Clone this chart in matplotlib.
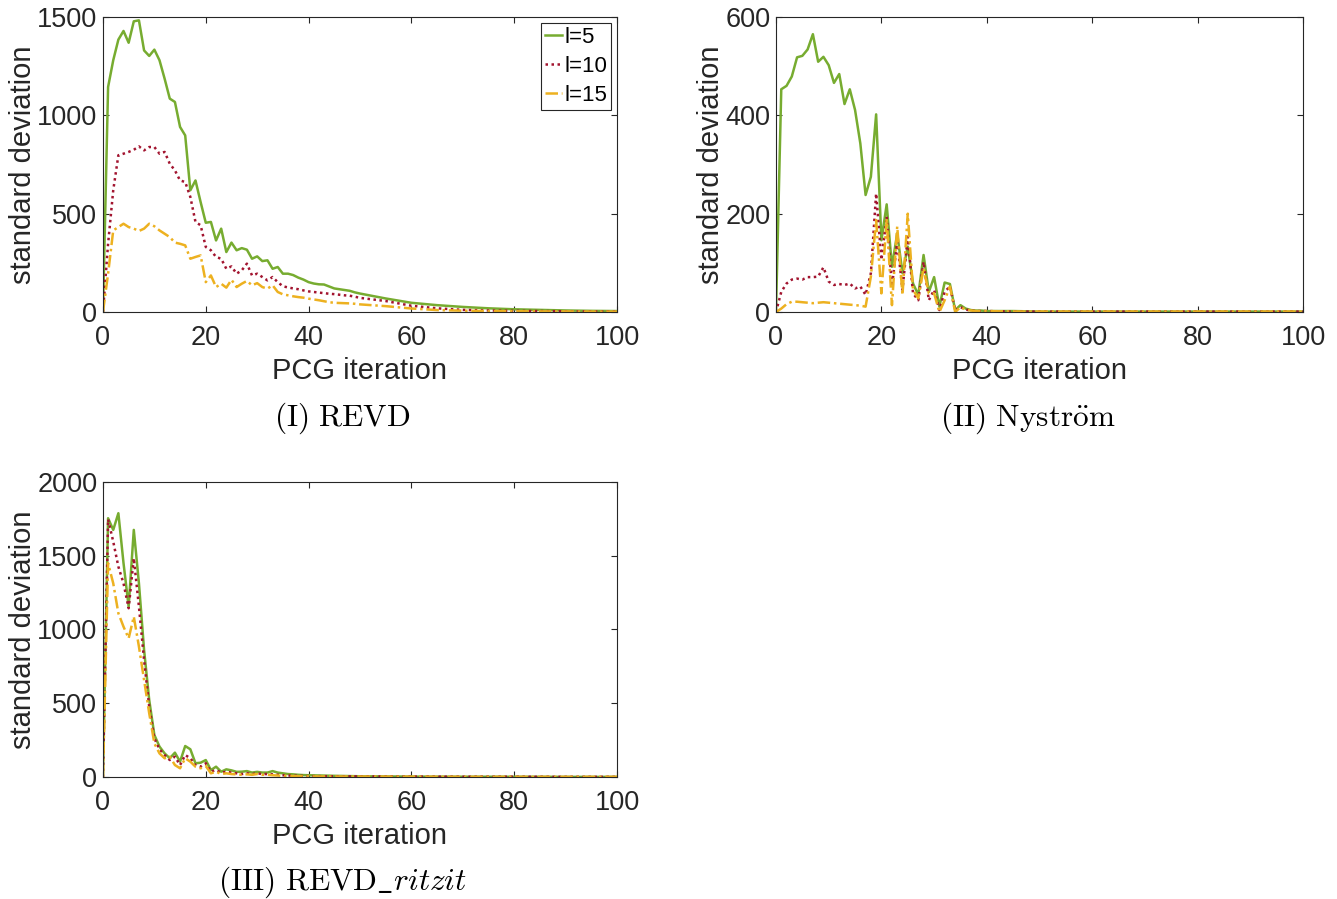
import numpy as np
import matplotlib
matplotlib.use("Agg")
import matplotlib.pyplot as plt

plt.rcParams["font.family"] = ["Liberation Sans", "DejaVu Sans"]
plt.rcParams["mathtext.fontset"] = "cm"

# iteration grids (dense at the start, sparse in the tails)
it_revd = list(range(0, 51)) + [55, 60, 65, 70, 75, 80, 85, 90, 95, 100]
it_short = list(range(0, 41)) + [45, 50, 60, 70, 80, 90, 100]

# (I) REVD
revd_l5 = [0, 1144, 1280, 1385, 1429, 1369, 1478, 1483, 1330, 1302, 1334, 1280, 1186, 1085, 1068,
           941, 898, 619, 669, 559, 454, 458, 364, 424, 305, 353, 314, 325, 317, 271, 283, 259,
           263, 220, 229, 195, 195, 188, 175, 165, 152, 145, 141, 140, 130, 120, 116, 112, 108,
           100, 94,
           69, 47, 35, 26, 19, 14, 11, 8, 6, 5]
revd_l10 = [0, 347, 619, 797, 805, 814, 825, 842, 822, 839, 839, 805, 814, 754, 720, 669, 661, 585,
            458, 441, 331, 314, 280, 271, 220, 232, 195, 212, 246, 186, 195, 178, 161, 178, 152,
            131, 125, 120, 116, 110, 105, 102, 99, 96, 93, 91, 88, 85, 83, 78, 72,
            56, 32, 19, 11, 8, 6, 5, 4, 3, 3]
revd_l15 = [0, 195, 415, 432, 449, 432, 424, 412, 424, 449, 436, 415, 398, 381, 353, 347, 339, 271,
            280, 288, 152, 186, 127, 144, 124, 164, 127, 144, 158, 136, 147, 127, 119, 136, 102,
            90, 85, 80, 76, 73, 68, 64, 60, 55, 50, 47, 46, 45, 44, 42, 39,
            30, 18, 10, 7, 5, 4, 3, 3, 2, 2]

# (II) Nystrom
nys_l5 = [0, 453, 460, 479, 518, 521, 534, 565, 509, 519, 502, 466, 484, 423, 453, 411, 343, 238,
          275, 402, 146, 219, 92, 160, 79, 133, 58, 35, 116, 41, 71, 11, 60, 57, 4, 14, 7, 4, 3,
          3, 2,
          2, 1, 1, 1, 1, 1, 1]
nys_l10 = [0, 41, 58, 66, 68, 66, 71, 71, 72, 91, 62, 55, 57, 55, 58, 48, 52, 35, 79, 241, 106,
           194, 52, 143, 45, 153, 38, 24, 102, 24, 45, 4, 41, 52, 3, 10, 5, 3, 2, 2, 2,
           1, 1, 1, 1, 1, 1, 1]
nys_l15 = [0, 7, 16, 21, 21, 20, 19, 18, 19, 20, 19, 18, 17, 16, 15, 14, 13, 11, 72, 187, 38, 187,
           14, 174, 35, 200, 45, 28, 89, 38, 38, 0, 24, 52, 0, 10, 5, 3, 2, 2, 2,
           1, 1, 1, 1, 1, 1, 1]

# (III) REVD_ritzit
ritz_l5 = [0, 1754, 1675, 1788, 1450, 1155, 1675, 1313, 861, 522, 285, 206, 160, 127, 165, 104,
           210, 188, 93, 97, 115, 47, 70, 36, 52, 45, 35, 36, 40, 30, 35, 30, 30, 40, 30, 25, 20,
           18, 15, 13, 12,
           8, 5, 3, 2, 2, 1, 1]
ritz_l10 = [0, 1747, 1596, 1426, 1313, 1144, 1483, 1155, 793, 477, 262, 188, 149, 115, 138, 81,
            149, 127, 81, 70, 93, 36, 47, 29, 36, 30, 25, 20, 25, 20, 25, 20, 20, 18, 15, 12, 10,
            9, 8, 7, 6,
            5, 4, 3, 2, 2, 1, 1]
ritz_l15 = [0, 1449, 1313, 1110, 1019, 940, 1087, 884, 658, 432, 228, 160, 127, 138, 81, 59, 127,
            104, 70, 59, 75, 25, 36, 20, 25, 20, 18, 15, 18, 15, 20, 15, 15, 12, 10, 8, 7, 6, 5,
            5, 4,
            3, 3, 2, 1, 1, 1, 1]

labels = ["l=5", "l=10", "l=15"]
colors = ["#77AC30", "#A2142F", "#EDB120"]
styles = ["-", (0, (1, 1.4)), (0, (5, 1.5, 1, 1.5))]
axcol = "#262626"

fig = plt.figure(figsize=(13.37, 8.99), dpi=100)


def panel(rect, x, series, ymax, yticks, caption, cappos, legend=False):
    ax = fig.add_axes(rect)
    for y, lab, c, ls in zip(series, labels, colors, styles):
        ax.plot(x, y, color=c, linestyle=ls, linewidth=1.8, label=lab)
    ax.set_xlim(0, 100)
    ax.set_ylim(0, ymax)
    ax.set_xticks([0, 20, 40, 60, 80, 100])
    ax.set_yticks(yticks)
    ax.tick_params(direction="in", top=True, right=True, length=4, width=0.8,
                   labelsize=19.5, colors=axcol, pad=4)
    ax.tick_params(axis="x", pad=9)
    for s in ax.spines.values():
        s.set_color(axcol)
        s.set_linewidth(0.8)
    ax.set_xlabel("PCG iteration", fontsize=21, color=axcol, labelpad=5)
    ax.set_ylabel("standard deviation", fontsize=21, color=axcol, labelpad=0)
    fig.text(cappos[0], cappos[1], caption, fontsize=22.5, ha="center", va="center")
    if legend:
        leg = ax.legend(loc="upper right", fontsize=16, handlelength=0.75, handletextpad=0.1,
                        labelspacing=0.35, borderpad=0.2, borderaxespad=0.25, fancybox=False,
                        framealpha=1, edgecolor=axcol)
        leg.get_frame().set_linewidth(0.8)
    return ax


panel([0.0770, 0.6529, 0.3845, 0.3282], it_revd, [revd_l5, revd_l10, revd_l15], 1500,
      [0, 500, 1000, 1500], r"$\mathrm{(I)\ REVD}$", (0.256, 0.535), legend=True)
panel([0.5804, 0.6529, 0.3942, 0.3282], it_short, [nys_l5, nys_l10, nys_l15], 600,
      [0, 200, 400, 600], r"$\mathrm{(II)\ Nystr\ddot{o}m}$", (0.769, 0.535))
panel([0.0770, 0.1357, 0.3845, 0.3282], it_short, [ritz_l5, ritz_l10, ritz_l15], 2000,
      [0, 500, 1000, 1500, 2000], r"$\mathrm{(III)\ REVD\_}\mathit{ritzit}$", (0.256, 0.019))

fig.savefig("out.png", dpi=100)
